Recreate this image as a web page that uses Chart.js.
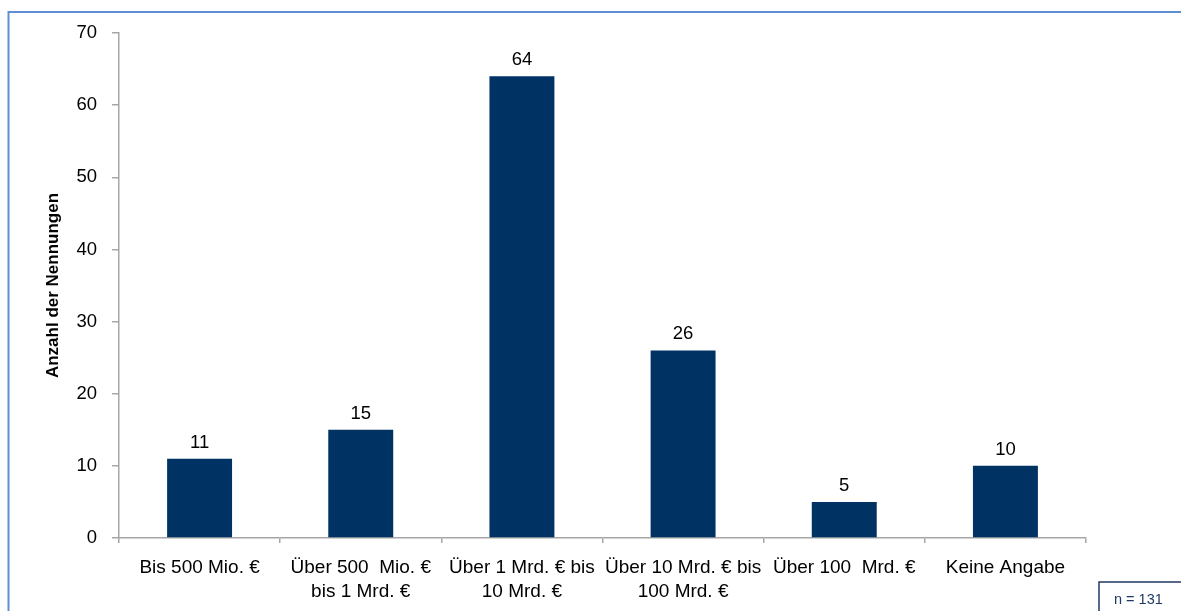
<!DOCTYPE html>
<html lang="de">
<head>
<meta charset="utf-8">
<title>Anzahl der Nennungen</title>
<script src="https://cdn.jsdelivr.net/npm/chart.js@4/dist/chart.umd.min.js"></script>
<style>
  html, body { margin: 0; padding: 0; background: #ffffff; }
  #wrap { width: 1181px; height: 611px; position: relative; }
  canvas { display: block; }
</style>
</head>
<body>
<div id="wrap"><canvas id="c" width="1181" height="611"></canvas></div>
<script>
// Umsatzklassen (Kategorien, mehrzeilig)
const categories = [
  ['Bis 500 Mio. €'],
  ['Über 500  Mio. €', 'bis 1 Mrd. €'],
  ['Über 1 Mrd. € bis', '10 Mrd. €'],
  ['Über 10 Mrd. € bis', '100 Mrd. €'],
  ['Über 100  Mrd. €'],
  ['Keine Angabe']
];
// Anzahl der Nennungen je Klasse
const counts = [11, 15, 64, 26, 5, 10];
// Y-Achse
const yTicks = [0, 10, 20, 30, 40, 50, 60, 70];
const yTitle = 'Anzahl der Nennungen';
const sampleNote = 'n = 131';

const FONT = "'Liberation Sans', Arial, sans-serif";
const AXIS_GREY = '#A6A6A6';
const BAR_BLUE = '#003264';

// Werte über den Balken
const valueLabels = {
  id: 'valueLabels',
  afterDatasetsDraw(chart) {
    const ctx = chart.ctx;
    const meta = chart.getDatasetMeta(0);
    ctx.save();
    ctx.font = '18.5px ' + FONT;
    ctx.fillStyle = '#000000';
    ctx.textAlign = 'center';
    ctx.textBaseline = 'alphabetic';
    meta.data.forEach((bar, i) => {
      ctx.fillText(String(chart.data.datasets[0].data[i]), bar.x, bar.y - 11);
    });
    ctx.restore();
  }
};

// Rahmen um die Grafik und Stichprobenhinweis
const frame = {
  id: 'frame',
  afterDraw(chart) {
    const ctx = chart.ctx;
    const W = chart.width, H = chart.height;
    ctx.save();
    ctx.strokeStyle = '#5F8FD2';
    ctx.lineWidth = 2;
    ctx.beginPath();
    ctx.moveTo(8.5, H + 2);
    ctx.lineTo(8.5, 12);
    ctx.lineTo(W + 2, 12);
    ctx.stroke();

    ctx.strokeStyle = '#1F3864';
    ctx.lineWidth = 1.5;
    ctx.strokeRect(1099, 582, W - 1099 + 10, H - 582 + 10);
    ctx.font = '14.5px ' + FONT;
    ctx.fillStyle = '#1F3864';
    ctx.textAlign = 'left';
    ctx.textBaseline = 'middle';
    ctx.fillText(sampleNote, 1114, 600);
    ctx.restore();
  }
};

new Chart(document.getElementById('c'), {
  type: 'bar',
  data: {
    labels: categories,
    datasets: [{
      data: counts,
      backgroundColor: BAR_BLUE,
      borderWidth: 0,
      categoryPercentage: 1.0,
      barPercentage: 0.403
    }]
  },
  options: {
    responsive: false,
    animation: false,
    devicePixelRatio: 1,
    layout: { padding: { left: 0, top: 33, right: 95, bottom: 0 } },
    plugins: {
      legend: { display: false },
      tooltip: { enabled: false }
    },
    scales: {
      x: {
        offset: true,
        grid: {
          offset: true,
          drawOnChartArea: false,
          drawTicks: true,
          tickLength: 5,
          color: AXIS_GREY,
          lineWidth: 1.5
        },
        border: { display: true, color: AXIS_GREY, width: 1.5 },
        ticks: {
          color: '#000000',
          font: { family: FONT, size: 19, lineHeight: 1.27 },
          padding: 13,
          maxRotation: 0,
          autoSkip: false
        },
        afterFit(scale) { scale.height = 611 - 538; }
      },
      y: {
        min: 0,
        max: 70,
        afterBuildTicks(scale) { scale.ticks = yTicks.map(v => ({ value: v })); },
        grid: {
          drawOnChartArea: false,
          drawTicks: true,
          tickLength: 7,
          color: AXIS_GREY,
          lineWidth: 1.5
        },
        border: { display: true, color: AXIS_GREY, width: 1.5 },
        ticks: {
          color: '#000000',
          font: { family: FONT, size: 18.5 },
          padding: 15
        },
        title: {
          display: true,
          text: yTitle,
          color: '#000000',
          font: { family: FONT, size: 17, weight: 'bold', lineHeight: 1.2 },
          padding: { top: 43, bottom: 0 }
        },
        afterFit(scale) { scale.width = 119; }
      }
    }
  },
  plugins: [valueLabels, frame]
});
</script>
</body>
</html>
